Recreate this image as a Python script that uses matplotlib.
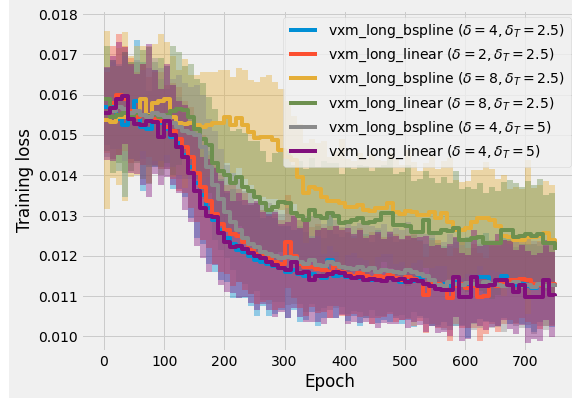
import numpy as np
import matplotlib
matplotlib.use("Agg")
import matplotlib.pyplot as plt
from matplotlib.patches import Rectangle

plt.style.use("fivethirtyeight")

# training loss logged every 10 epochs, values in units of 1e-5
epochs = np.arange(0, 760, 10)

labels = [
    r"vxm_long_bspline ($\delta = 4, \delta_T = 2.5$)",
    r"vxm_long_linear ($\delta = 2, \delta_T = 2.5$)",
    r"vxm_long_bspline ($\delta = 8, \delta_T = 2.5$)",
    r"vxm_long_linear ($\delta = 8, \delta_T = 2.5$)",
    r"vxm_long_bspline ($\delta = 4, \delta_T = 5$)",
    r"vxm_long_linear ($\delta = 4, \delta_T = 5$)",
]

bspline_4_25 = [1570, 1575, 1540, 1525, 1560, 1585, 1520, 1515, 1540, 1530, 1515, 1495, 1480, 1450, 1420, 1380,
                1350, 1320, 1290, 1265, 1245, 1230, 1215, 1210, 1200, 1190, 1185, 1180, 1175, 1170, 1160,
                1165, 1155, 1150, 1155, 1150, 1145, 1190, 1150, 1152, 1148, 1150, 1145, 1150, 1140, 1148,
                1142, 1145, 1140, 1135, 1140, 1138, 1145, 1130, 1135, 1128, 1130, 1125, 1135, 1130, 1122,
                1125, 1148, 1148, 1130, 1125, 1150, 1140, 1128, 1130, 1125, 1120, 1130, 1125, 1128, 1125]
bspline_4_25_sd = [95, 110, 130, 180, 120, 150, 160, 95, 120, 110, 100, 130, 115, 105, 125, 135,
                   120, 140, 130, 125, 110, 135, 120, 115, 125, 140, 110, 130, 120, 105, 115,
                   100, 120, 110, 95, 125, 100, 115, 105, 95, 110, 100, 120, 105, 95, 115,
                   100, 110, 95, 105, 100, 115, 95, 100, 110, 105, 95, 100, 110, 105, 125,
                   95, 105, 110, 95, 100, 105, 110, 95, 100, 105, 110, 95, 100, 105, 95]

linear_2_25 = [1555, 1580, 1600, 1590, 1560, 1545, 1550, 1545, 1540, 1535, 1520, 1510, 1490, 1470, 1445, 1405,
               1370, 1335, 1305, 1280, 1265, 1255, 1250, 1235, 1215, 1205, 1200, 1195, 1185, 1180, 1235,
               1200, 1180, 1172, 1172, 1168, 1165, 1160, 1175, 1160, 1155, 1150, 1158, 1150, 1145, 1150,
               1148, 1152, 1145, 1140, 1148, 1142, 1138, 1103, 1135, 1130, 1120, 1095, 1125, 1130, 1120,
               1125, 1098, 1100, 1130, 1125, 1135, 1140, 1140, 1142, 1140, 1130, 1128, 1125, 1130, 1123]
linear_2_25_sd = [100, 140, 150, 130, 130, 110, 125, 100, 115, 120, 105, 120, 130, 115, 125, 120,
                  130, 115, 125, 120, 110, 130, 115, 120, 110, 125, 115, 105, 120, 110, 115,
                  105, 110, 120, 100, 110, 105, 115, 100, 110, 105, 95, 110, 100, 115, 105,
                  100, 95, 110, 100, 105, 115, 100, 95, 105, 110, 100, 105, 95, 110, 100,
                  105, 110, 95, 100, 115, 105, 100, 110, 95, 105, 100, 110, 100, 105, 110]

bspline_8_25 = [1537, 1532, 1545, 1545, 1545, 1560, 1590, 1550, 1580, 1585, 1590, 1545, 1530, 1528, 1530, 1525,
                1520, 1525, 1530, 1530, 1545, 1525, 1542, 1525, 1507, 1492, 1495, 1495, 1487, 1463, 1445,
                1438, 1396, 1356, 1370, 1365, 1345, 1335, 1335, 1330, 1321, 1321, 1325, 1315, 1312, 1318,
                1320, 1330, 1310, 1305, 1312, 1308, 1301, 1301, 1310, 1295, 1306, 1284, 1264, 1264, 1270,
                1284, 1294, 1294, 1290, 1275, 1250, 1247, 1240, 1240, 1247, 1248, 1250, 1257, 1240, 1232]
bspline_8_25_sd = [220, 140, 170, 210, 150, 160, 130, 170, 145, 165, 140, 150, 130, 160, 120, 125,
                   135, 130, 125, 130, 115, 120, 125, 135, 130, 140, 150, 155, 145, 150, 140,
                   110, 130, 125, 120, 115, 140, 110, 125, 160, 120, 115, 130, 125, 140, 120,
                   115, 125, 130, 120, 150, 125, 110, 130, 140, 120, 130, 160, 125, 120, 115,
                   130, 120, 140, 125, 115, 150, 120, 130, 125, 190, 120, 125, 130, 135, 120]

linear_8_25 = [1590, 1545, 1550, 1555, 1545, 1555, 1550, 1548, 1552, 1545, 1550, 1560, 1565, 1562, 1545, 1515,
               1490, 1475, 1430, 1410, 1400, 1380, 1395, 1370, 1360, 1346, 1330, 1314, 1321, 1334, 1330,
               1306, 1300, 1290, 1314, 1300, 1295, 1306, 1300, 1282, 1285, 1290, 1295, 1282, 1285, 1290,
               1306, 1306, 1277, 1277, 1275, 1260, 1260, 1290, 1257, 1257, 1265, 1262, 1270, 1240, 1240,
               1245, 1247, 1232, 1232, 1232, 1264, 1264, 1247, 1250, 1255, 1250, 1255, 1232, 1232, 1215]
linear_8_25_sd = [130, 140, 120, 150, 135, 125, 160, 170, 130, 145, 120, 160, 140, 110, 130, 125,
                  140, 120, 135, 125, 140, 130, 120, 135, 125, 140, 130, 120, 135, 125, 130,
                  120, 135, 125, 130, 120, 140, 125, 130, 120, 135, 125, 130, 140, 125, 130,
                  120, 135, 125, 130, 150, 125, 130, 120, 135, 125, 130, 120, 140, 125, 130,
                  120, 135, 125, 140, 130, 120, 125, 135, 120, 130, 125, 135, 120, 125, 130]

bspline_4_5 = [1555, 1560, 1570, 1565, 1555, 1560, 1550, 1545, 1555, 1550, 1545, 1530, 1520, 1510, 1505, 1500,
               1470, 1420, 1375, 1340, 1310, 1285, 1265, 1245, 1230, 1222, 1210, 1205, 1200, 1195, 1198,
               1195, 1185, 1180, 1190, 1178, 1175, 1185, 1180, 1172, 1170, 1168, 1172, 1165, 1170, 1160,
               1165, 1162, 1160, 1158, 1165, 1160, 1155, 1150, 1140, 1128, 1125, 1135, 1130, 1128, 1132,
               1130, 1125, 1135, 1130, 1128, 1125, 1130, 1135, 1125, 1128, 1122, 1130, 1125, 1128, 1122]
bspline_4_5_sd = [110, 120, 105, 130, 115, 125, 110, 120, 135, 115, 125, 110, 130, 120, 115, 125,
                  130, 120, 135, 125, 115, 120, 130, 115, 125, 110, 120, 125, 115, 110, 120,
                  115, 105, 120, 110, 115, 105, 120, 110, 100, 115, 105, 110, 120, 105, 110,
                  115, 100, 110, 105, 120, 100, 110, 105, 115, 100, 110, 120, 105, 100, 110,
                  115, 105, 100, 110, 105, 115, 100, 110, 105, 100, 115, 105, 110, 100, 120]

linear_4_5 = [1554, 1566, 1590, 1597, 1540, 1527, 1525, 1535, 1532, 1495, 1535, 1500, 1470, 1445, 1405, 1360,
              1320, 1300, 1297, 1257, 1235, 1222, 1225, 1218, 1207, 1200, 1195, 1185, 1178, 1170, 1165,
              1185, 1158, 1160, 1140, 1150, 1150, 1155, 1160, 1158, 1150, 1145, 1148, 1140, 1142, 1140,
              1138, 1145, 1140, 1142, 1135, 1140, 1138, 1130, 1125, 1118, 1115, 1115, 1148, 1098, 1098,
              1148, 1125, 1125, 1128, 1140, 1140, 1128, 1110, 1128, 1098, 1098, 1098, 1140, 1104, 1100]
linear_4_5_sd = [115, 130, 140, 120, 135, 125, 150, 190, 130, 120, 140, 125, 115, 130, 120, 135,
                 125, 140, 120, 130, 125, 115, 130, 120, 125, 135, 115, 120, 130, 110, 120,
                 115, 110, 125, 105, 115, 120, 110, 115, 105, 120, 110, 115, 105, 110, 120,
                 105, 115, 110, 100, 115, 105, 110, 120, 100, 110, 105, 115, 100, 110, 105,
                 115, 100, 110, 105, 115, 100, 110, 105, 100, 115, 105, 110, 100, 105, 95]

runs = [(bspline_4_25, bspline_4_25_sd), (linear_2_25, linear_2_25_sd),
        (bspline_8_25, bspline_8_25_sd), (linear_8_25, linear_8_25_sd),
        (bspline_4_5, bspline_4_5_sd), (linear_4_5, linear_4_5_sd)]
colors = ["#008fd5", "#fc4f30", "#e5ae38", "#6d904f", "#8b8b8b", "#810f7c"]

fig = plt.figure(figsize=(572 / 72, 399 / 72), dpi=72, facecolor="white")
fig.patches.append(Rectangle((9 / 572, 1 / 399), 1, 1, transform=fig.transFigure,
                             facecolor="#f0f0f0", edgecolor="none", zorder=-10))
ax = fig.add_axes([0.1423, 0.1203, 0.868, 0.8546])

for (m, s), c in zip(runs, colors):
    m = np.array(m) * 1e-5
    s = np.array(s) * 1e-5
    ax.fill_between(epochs, m - s, m + s, step="post", color=c, alpha=0.4, lw=0)
for (m, s), c, lab in zip(runs, colors, labels):
    ax.step(epochs, np.array(m) * 1e-5, where="post", color=c, lw=4, label=lab)

ax.set_xlim(-37.5, 787.5)
ax.set_ylim(0.00964, 0.0181)
ax.set_xticks([0, 100, 200, 300, 400, 500, 600, 700])
ax.set_yticks(np.arange(0.010, 0.0185, 0.001))
ax.set_xlabel("Epoch")
ax.set_ylabel("Training loss")
ax.legend(loc="upper right", fontsize=14)

fig.savefig("out.png", dpi=72, facecolor="white")
